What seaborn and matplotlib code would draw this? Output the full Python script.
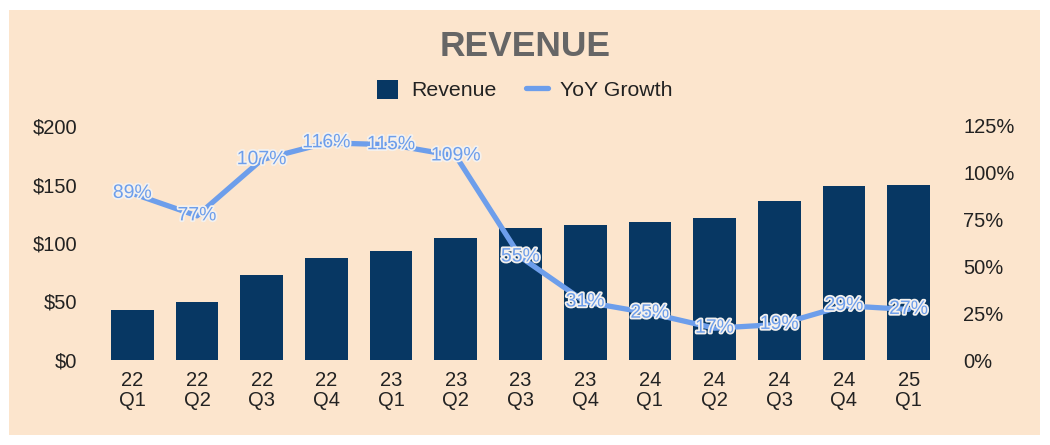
import matplotlib
matplotlib.use("Agg")
import matplotlib.pyplot as plt
import matplotlib.patheffects as pe
from matplotlib.patches import Rectangle
from matplotlib.lines import Line2D
import seaborn as sns
import numpy as np
import pandas as pd

quarters = ["22\nQ1", "22\nQ2", "22\nQ3", "22\nQ4", "23\nQ1", "23\nQ2", "23\nQ3",
            "23\nQ4", "24\nQ1", "24\nQ2", "24\nQ3", "24\nQ4", "25\nQ1"]
revenue = [43, 50, 73, 87, 93, 104, 113, 115, 118, 121, 136, 149, 150]
yoy_growth = [89, 77, 107, 116, 115, 109, 55, 31, 25, 17, 19, 29, 27]
left_ticks = [0, 50, 100, 150, 200]
left_labels = ["$0", "$50", "$100", "$150", "$200"]
right_ticks = [0, 25, 50, 75, 100, 125]
right_labels = ["0%", "25%", "50%", "75%", "100%", "125%"]

BG = "#FCE5CD"
BAR = "#073763"
LINE = "#6D9EEB"
TXT = "#222222"

sns.set_theme(style="white")
plt.rcParams["font.family"] = ["Liberation Sans", "DejaVu Sans"]

df = pd.DataFrame({"q": quarters, "rev": revenue, "yoy": yoy_growth,
                   "pos": np.arange(len(quarters))})

fig = plt.figure(figsize=(10.5, 4.45), dpi=100)
fig.patch.set_facecolor("white")
fig.patches.append(Rectangle((9/1050, 10/445), (1040-9)/1050, (435-10)/445,
                             transform=fig.transFigure, facecolor=BG,
                             edgecolor="none", zorder=-10))

ax = fig.add_axes([100/1050, (445-360)/445, (941-100)/1050, (360-126)/445])
ax.set_facecolor("none")
sns.barplot(data=df, x="q", y="rev", color=BAR, saturation=1, width=0.66, ax=ax,
            edgecolor=BAR, linewidth=0)
ax.set_ylim(0, 200)
ax.set_xlim(-0.5, len(quarters) - 0.5)
ax.set_yticks(left_ticks)
ax.set_yticklabels(left_labels)
ax.set_xlabel("")
ax.set_ylabel("")
ax.tick_params(axis="y", length=0, pad=16.5, labelsize=14.5, labelcolor=TXT)
ax.tick_params(axis="x", length=0, pad=8, labelsize=14.5, labelcolor=TXT)
for lbl in ax.get_xticklabels():
    lbl.set_linespacing(1.05)
for s in ax.spines.values():
    s.set_visible(False)

ax2 = ax.twinx()
sns.lineplot(data=df, x="pos", y="yoy", color=LINE, linewidth=3.8, ax=ax2,
             sort=False, legend=False)
ax2.set_ylim(0, 125)
ax2.set_xlim(-0.5, len(quarters) - 0.5)
ax2.set_yticks(right_ticks)
ax2.set_yticklabels(right_labels)
ax2.set_ylabel("")
ax2.set_xlabel("")
ax2.tick_params(axis="y", length=0, pad=16, labelsize=14.5, labelcolor=TXT)
for s in ax2.spines.values():
    s.set_visible(False)
for x, v in zip(df["pos"], yoy_growth):
    ax2.text(x, v, f"{v}%", ha="center", va="center", fontsize=14, color=LINE,
             path_effects=[pe.withStroke(linewidth=2.5, foreground="#F4F1EE")],
             zorder=5)

fig.text(0.5, 1 - 47/445, "REVENUE", ha="center", va="center", fontsize=25.5,
         fontweight="bold", color="#666666")

handles = [Rectangle((0, 0), 1, 1, facecolor=BAR, edgecolor="none"),
           Line2D([0], [0], color=LINE, linewidth=3.8)]
fig.legend(handles, ["Revenue", "YoY Growth"], loc="center",
           bbox_to_anchor=(0.5, 1 - 90/445), ncol=2, frameon=False,
           fontsize=15.3, handlelength=1.0, handleheight=1.0, columnspacing=1.4,
           handletextpad=0.6, labelcolor=TXT)

fig.savefig("out.png", dpi=100, facecolor="white")
